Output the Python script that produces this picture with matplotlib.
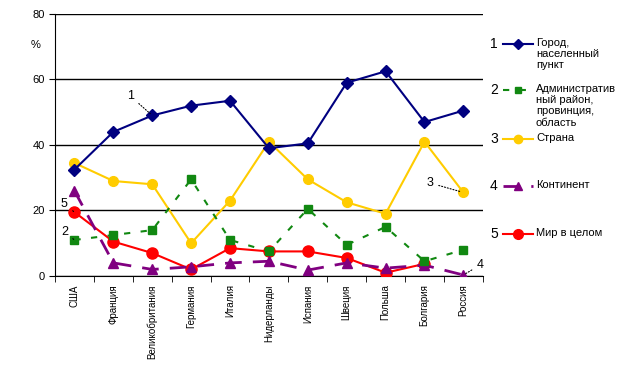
import matplotlib
matplotlib.use('Agg')
import matplotlib.pyplot as plt
import numpy as np
from matplotlib.lines import Line2D

countries = ['США', 'Франция', 'Великобритания', 'Германия', 'Италия', 'Нидерланды',
             'Испания', 'Швеция', 'Польша', 'Болгария', 'Россия']
city = [32.5, 44, 49, 52, 53.5, 39, 40.5, 59, 62.5, 47, 50.5]
region = [11, 12.5, 14, 29.5, 11, 7.5, 20.5, 9.5, 15, 4.5, 8]
country = [34.5, 29, 28, 10, 23, 41, 29.5, 22.5, 19, 41, 25.5]
continent = [26, 4, 2, 2.8, 4, 4.5, 1.8, 4, 2.4, 3.3, 0.3]
world = [19.5, 10.5, 7, 2, 8.5, 7.5, 7.5, 5.5, 1, 3.7, np.nan]

plt.rcParams['font.family'] = ['Liberation Sans', 'DejaVu Sans']
fig = plt.figure(figsize=(6.23, 3.88), dpi=100)
ax = fig.add_axes([0.0883, 0.2887, 0.775 - 0.0883, 0.964 - 0.2887])

x = np.arange(len(countries))
styles = [
    (city, dict(color='#000080', marker='D', ms=6, lw=1.5, ls='-')),
    (region, dict(color='#118811', marker='s', ms=6, lw=1.5, ls=(0, (3, 5)))),
    (country, dict(color='#FFCC00', marker='o', ms=7, lw=1.5, ls='-')),
    (continent, dict(color='#800080', marker='^', ms=7, lw=2, ls=(0, (6, 4)))),
    (world, dict(color='#FF0000', marker='o', ms=8, lw=1.5, ls='-')),
]
for vals, kw in styles[::-1]:
    ax.plot(x, vals, zorder=3, **kw)

ax.set_xlim(-0.5, len(countries) - 0.5)
ax.set_ylim(0, 80)
ax.set_yticks([0, 20, 40, 60, 80])
ax.tick_params(axis='y', labelsize=8, length=4, direction='out')
ax.set_xticks(x)
ax.set_xticklabels(countries, rotation=90, fontsize=7)
ax.tick_params(axis='x', length=0, pad=6)
ax.set_xticks(np.arange(len(countries) + 1) - 0.5, minor=True)
ax.tick_params(axis='x', which='minor', length=4, direction='out')
for s in ['top', 'right']:
    ax.spines[s].set_visible(False)
ax.grid(axis='y', color='black', lw=1)
ax.set_axisbelow(True)
ax.text(-0.045, 0.88, '%', transform=ax.transAxes, fontsize=8, ha='center', va='center')

# series labels with leader lines
lead = dict(arrowprops=dict(arrowstyle='-', ls=':', lw=0.8, color='black'), fontsize=9)
ax.annotate('1', xy=(2, city[2]), xytext=(1.35, 54), **lead)
ax.annotate('5', xy=(0, world[0]), xytext=(-0.35, 21), **lead)
ax.annotate('2', xy=(0, region[0]), xytext=(-0.35, 12.5), **lead)
ax.annotate('3', xy=(10, country[10]), xytext=(9.05, 27.5), **lead)
ax.annotate('4', xy=(10, continent[10]), xytext=(10.35, 2.5), **lead)

# legend drawn at right
names = ['Город,\nнаселенный\nпункт', 'Административ\nный район,\nпровинция,\nобласть',
         'Страна', 'Континент', 'Мир в целом']
ys = [44, 90, 139, 186, 234]
W, H = 623, 388
for i, ((vals, kw), name, yp) in enumerate(zip(styles, names, ys)):
    fy = 1 - yp / H
    fig.text(490 / W, fy, str(i + 1), fontsize=10, va='center')
    ln = Line2D([503 / W, 533 / W], [fy, fy], transform=fig.transFigure,
                color=kw['color'], lw=kw['lw'], ls=kw['ls'])
    mk = Line2D([518 / W], [fy], transform=fig.transFigure, color=kw['color'],
                marker=kw['marker'], ms=kw['ms'] - 1, ls='none')
    fig.add_artist(ln)
    fig.add_artist(mk)
    fig.text(536 / W, fy + 6 / H, name, fontsize=8, va='top', linespacing=1.15)

fig.savefig('out.png', dpi=100)
